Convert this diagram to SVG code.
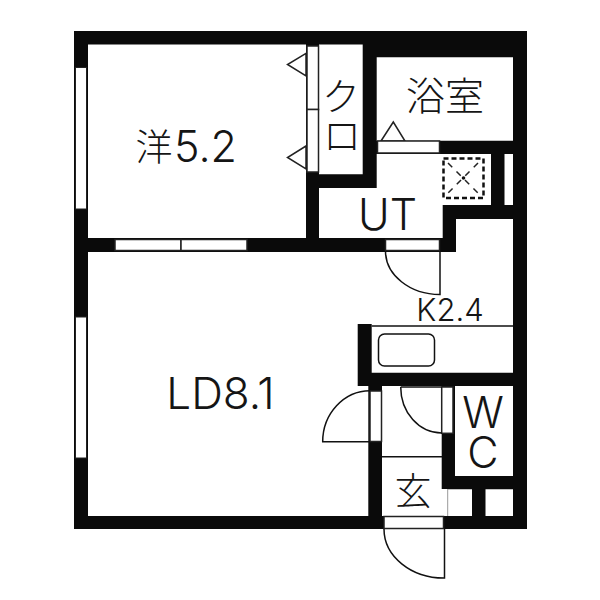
<svg xmlns="http://www.w3.org/2000/svg" width="600" height="600" viewBox="0 0 600 600">
<style>
.w{fill:#0a0a0a;stroke:none}
.o{fill:#fff;stroke:#222;stroke-width:1.5}
.l{fill:none;stroke:#111;stroke-width:1.5}
.t{fill:#151515;font-family:"Inter","Liberation Sans",sans-serif;font-weight:300;text-anchor:middle}
.j{fill:#151515;font-family:"Noto Sans CJK JP",sans-serif;font-weight:300;text-anchor:middle}
</style>
<rect width="600" height="600" fill="#fff"/>
<g id="walls">
<path class="w" fill-rule="evenodd" d="M74 31H527V529H74Z M88 44.5H306V238H88Z M319 44.5H362.7V174.3H319Z M376.7 57.3H513V140.7H376.7Z M376.7 154H491V205H442.7V238H319V188H376.7Z M504.5 154H513V205H504.5Z M456 219H513V326H371.7V324H357.7V386H368.3V516H88V252H456Z M371.7 326H513V372.7H371.7Z M382 386H441.7V489H448V516H382Z M455 386H513V476H455Z M448 489.3H472V516H448Z M485.5 489.3H513V516H485.5Z"/>
</g>
<g id="fixtures">
<rect class="o" x="75.5" y="67.5" width="11" height="141.5" style="stroke-width:1"/>
<rect class="o" x="75.5" y="317" width="11" height="141" style="stroke-width:1"/>
<rect class="o" x="115" y="239.5" width="66" height="11"/>
<rect class="o" x="181" y="239.5" width="66" height="11"/>
<rect class="o" x="307" y="46" width="11.500" height="63.500"/>
<rect class="o" x="307" y="109.500" width="11.500" height="62.500"/>
<path class="o" d="M306 53.300 287.500 64.500 306 76Z M306 146 287.500 157.500 306 169Z"/>
<path class="o" d="M381 141 393.300 122 405 141Z"/>
<rect class="o" x="377.500" y="141" width="62" height="12"/>
<rect x="443.500" y="158.500" width="40" height="39.500" fill="none" stroke="#111" stroke-width="2.500" stroke-dasharray="5 3"/>
<path d="M448 163 478 193 M478 163 448 193" fill="none" stroke="#222" stroke-width="1.500" stroke-dasharray="6 6"/>
<circle cx="463.500" cy="178" r="1.800" fill="#111"/>
<rect class="o" x="385.500" y="239.500" width="54" height="11"/>
<path class="l" d="M385.500 251A54.500 43.500 0 0 0 440 294.500V251"/>
<path class="l" d="M371.700 326H513"/>
<rect class="l" x="378.500" y="334" width="56" height="32" rx="6"/>
<rect class="o" x="370" y="391" width="11.500" height="50.500"/>
<path class="l" d="M370 390.700A47.500 51 0 0 0 322.700 441.700H370"/>
<rect class="o" x="441.700" y="387" width="11.300" height="46.300"/>
<path class="l" d="M400.700 387H441.700M400.700 387A41 46 0 0 0 441.700 433"/>
<path class="l" d="M382 456.700H442"/>
<path d="M447.700 489V516" fill="none" stroke="#999" stroke-width="1"/>
<rect class="o" x="384" y="516.500" width="59.500" height="12"/>
<path class="l" d="M384 529A60 49 0 0 0 444.500 578V529"/>
</g>
<g id="labels">
<text class="j" x="154" y="161" font-size="37">洋</text>
<text class="t" x="205.500" y="161.700" font-size="43">5.2</text>
<text class="t" x="220.500" y="409" font-size="44">LD8.1</text>
<text class="t" x="387.500" y="230" font-size="43">UT</text>
<text class="t" x="450" y="320.700" font-size="31">K2.4</text>
<text class="t" font-size="43"><tspan x="483" y="427.500">W</tspan><tspan x="483" y="468">C</tspan></text>
<text class="j" x="445" y="110" font-size="39">浴室</text>
<text class="j" font-size="38"><tspan x="341" y="110">ク</tspan><tspan x="342" y="149">ロ</tspan></text>
<text class="j" x="413" y="505" font-size="37">玄</text>
</g>
</svg>
